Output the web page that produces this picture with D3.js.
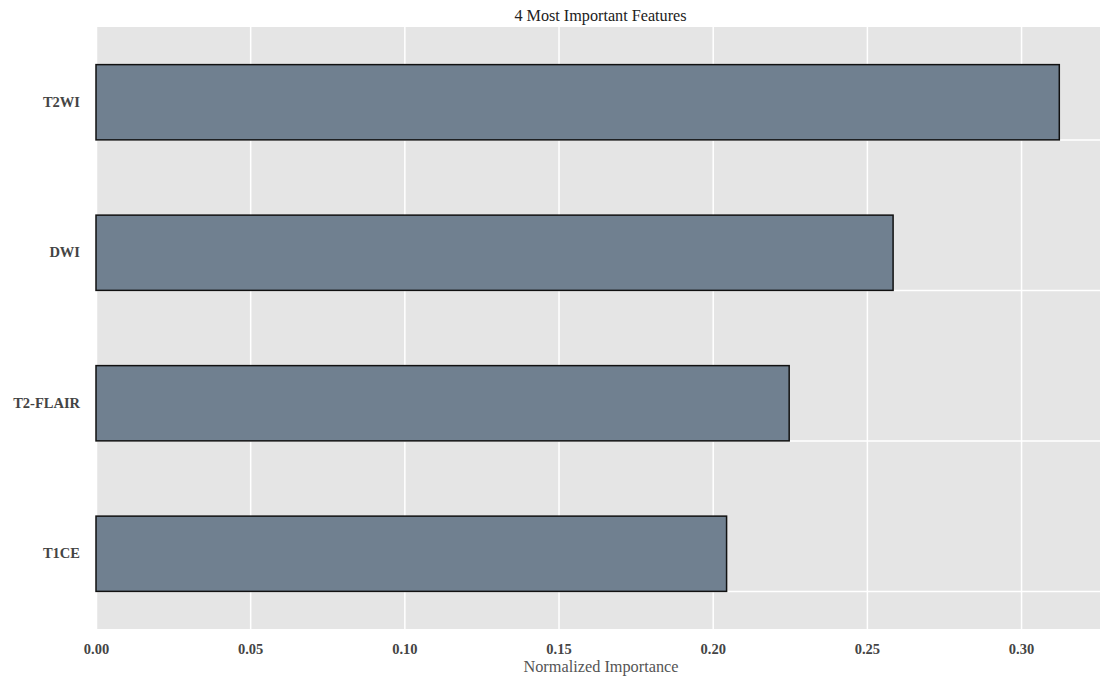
<!DOCTYPE html>
<html lang="en">
<head>
    <meta charset="UTF-8">
    <title>4 Most Important Features</title>
    <script src="https://d3js.org/d3.v7.min.js"></script>
    <style>
        body {
            margin: 0;
            background-color: white;
        }
        .axis text {
            font-family: 'Liberation Serif', 'Times New Roman', serif;
            font-weight: bold;
            font-size: 14.5px;
            fill: #444;
        }
        .axis path, .axis line {
            display: none;
        }
        .grid line {
            stroke: white;
            stroke-width: 1.5;
        }
        .grid path {
            display: none;
        }
    </style>
</head>
<body>

    <svg width="1100" height="682" class="chart"></svg>

    <script>
        // Feature importance values
        const features = ["T2WI", "DWI", "T2-FLAIR", "T1CE"];
        const importance = [0.3124, 0.2585, 0.2248, 0.2045];
        const xTicks = [0.00, 0.05, 0.10, 0.15, 0.20, 0.25, 0.30];

        const data = features.map((f, i) => ({ feature: f, value: importance[i] }));

        const svg = d3.select(".chart");
        const width = +svg.attr("width");
        const height = +svg.attr("height");
        const margin = { top: 27, right: 0, bottom: 53, left: 96 };

        const xScale = d3.scaleLinear()
            .domain([0, 0.3256])
            .range([margin.left, width - margin.right]);

        const yScale = d3.scaleBand()
            .domain(features)
            .range([margin.top, height - margin.bottom])
            .paddingInner(0.5)
            .paddingOuter(0.25);

        // Panel background
        svg.append("rect")
            .attr("x", margin.left)
            .attr("y", margin.top)
            .attr("width", width - margin.left - margin.right)
            .attr("height", height - margin.top - margin.bottom)
            .attr("fill", "#e5e5e5");

        // Vertical grid lines
        svg.append("g")
            .attr("class", "grid")
            .attr("transform", `translate(0, ${height - margin.bottom})`)
            .call(d3.axisBottom(xScale)
                .tickValues(xTicks)
                .tickSize(-(height - margin.top - margin.bottom))
                .tickFormat(""));

        // Horizontal grid lines through band centres
        svg.append("g")
            .attr("class", "grid")
            .attr("transform", `translate(${margin.left}, ${yScale.bandwidth() / 2})`)
            .call(d3.axisLeft(yScale)
                .tickSize(-(width - margin.left - margin.right))
                .tickFormat(""));

        // Bars
        svg.selectAll(".bar")
            .data(data)
            .enter()
            .append("rect")
            .attr("class", "bar")
            .attr("x", xScale(0))
            .attr("y", d => yScale(d.feature))
            .attr("width", d => xScale(d.value) - xScale(0))
            .attr("height", yScale.bandwidth())
            .attr("fill", "#708090")
            .attr("stroke", "#111")
            .attr("stroke-width", 1.5);

        // Axes
        svg.append("g")
            .attr("class", "axis axis--x")
            .attr("transform", `translate(0, ${height - margin.bottom})`)
            .call(d3.axisBottom(xScale)
                .tickValues(xTicks)
                .tickSize(0)
                .tickPadding(15)
                .tickFormat(d3.format(".2f")));

        svg.append("g")
            .attr("class", "axis axis--y")
            .attr("transform", `translate(${margin.left}, 0)`)
            .call(d3.axisLeft(yScale)
                .tickSize(0)
                .tickPadding(16));

        // Title
        svg.append("text")
            .attr("x", 600.5)
            .attr("y", 21)
            .attr("text-anchor", "middle")
            .style("font-family", "'Liberation Serif', 'Times New Roman', serif")
            .style("font-size", "16.2px")
            .style("fill", "#222")
            .text("4 Most Important Features");

        // X-axis label
        svg.append("text")
            .attr("x", 601)
            .attr("y", 672)
            .attr("text-anchor", "middle")
            .style("font-family", "'Liberation Serif', 'Times New Roman', serif")
            .style("font-size", "16.3px")
            .style("fill", "#555")
            .text("Normalized Importance");
    </script>
</body>
</html>
